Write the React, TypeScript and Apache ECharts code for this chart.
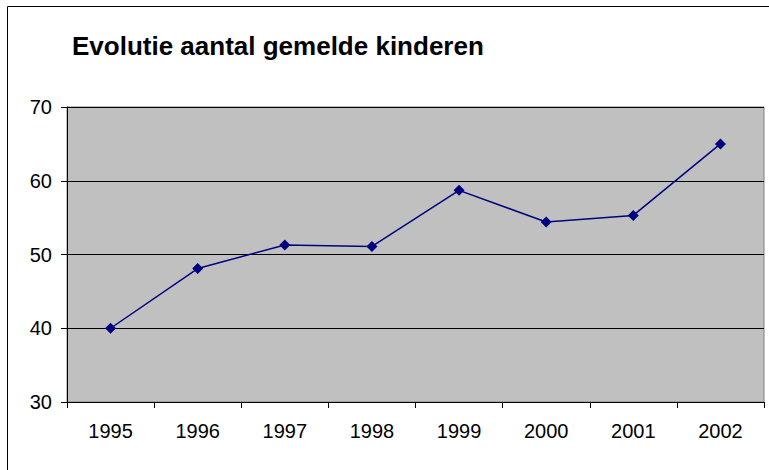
import React, { useEffect, useRef } from "react";
import * as echarts from "echarts";

const years = ["1995", "1996", "1997", "1998", "1999", "2000", "2001", "2002"];
const counts = [40, 48.1, 51.3, 51.1, 58.7, 54.4, 55.3, 65];
const titleText = "Evolutie aantal gemelde kinderen";

export default function App() {
  const ref = useRef<HTMLDivElement>(null);
  useEffect(() => {
    if (!ref.current) return;
    const chart = echarts.init(ref.current, null, { renderer: "svg" });
    const font = "'Liberation Sans', Arial, sans-serif";
    chart.setOption({
      animation: false,
      backgroundColor: "#ffffff",
      textStyle: { fontFamily: font },
      title: {
        text: titleText,
        left: 67,
        top: 28,
        textStyle: { fontFamily: font, fontSize: 26, fontWeight: "bold", color: "#000" },
      },
      graphic: [
        {
          type: "rect",
          shape: { x: 7.5, y: 6.5, width: 900, height: 600 },
          style: { fill: "none", stroke: "#000", lineWidth: 1 },
          silent: true,
          z: 100,
        },
      ],
      grid: {
        left: 67,
        right: 5,
        top: 107,
        bottom: 68,
        show: true,
        backgroundColor: "#c0c0c0",
        borderColor: "#808080",
        borderWidth: 1,
      },
      xAxis: {
        type: "category",
        data: years,
        boundaryGap: true,
        axisLine: { show: true, lineStyle: { color: "#000", width: 1 } },
        axisTick: { show: true, length: 6, lineStyle: { color: "#000" }, alignWithLabel: false },
        axisLabel: { fontSize: 20, color: "#000", margin: 19, fontFamily: font },
        splitLine: { show: false },
      },
      yAxis: {
        type: "value",
        min: 30,
        max: 70,
        interval: 10,
        axisLine: { show: true, lineStyle: { color: "#000", width: 1 } },
        axisTick: { show: true, length: 6, inside: false, lineStyle: { color: "#000" } },
        axisLabel: { fontSize: 20, color: "#000", margin: 15, fontFamily: font },
        splitLine: { show: true, lineStyle: { color: "#000", width: 1 } },
      },
      series: [
        {
          type: "line",
          data: counts,
          symbol: "diamond",
          symbolSize: 11,
          itemStyle: { color: "#000080" },
          lineStyle: { color: "#000080", width: 1.5 },
        },
      ],
    });
    return () => chart.dispose();
  }, []);
  return (
    <div
      ref={ref}
      style={{ position: "fixed", left: 0, top: 0, width: 769, height: 470 }}
    />
  );
}
